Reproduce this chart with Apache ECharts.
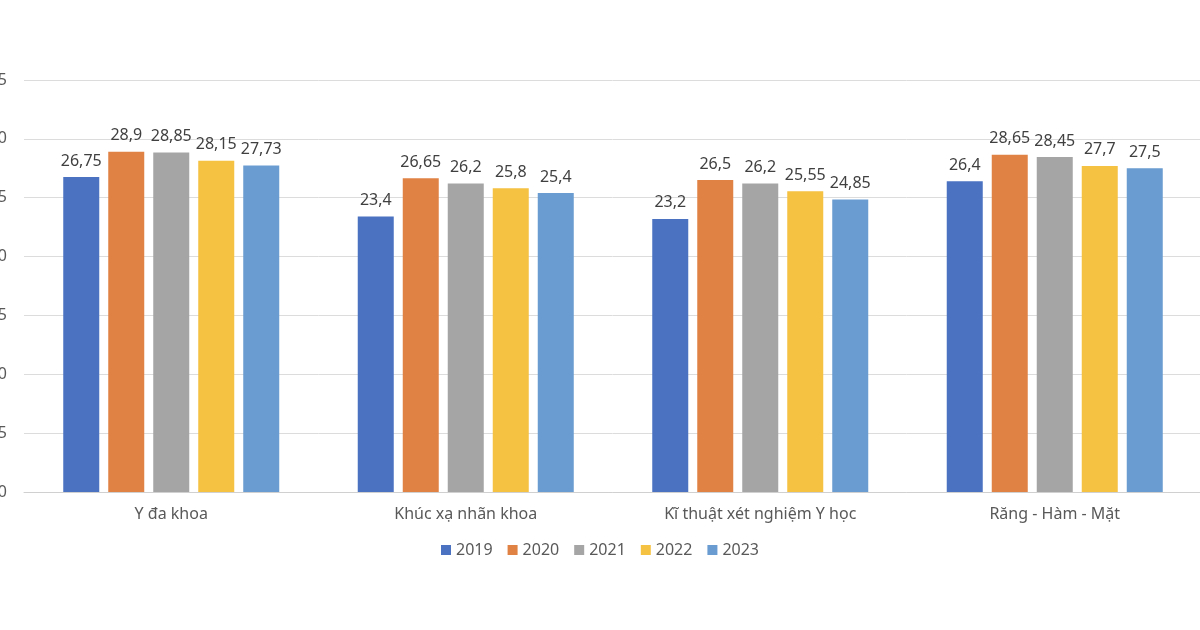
<!DOCTYPE html>
<html>
<head>
<meta charset="utf-8">
<script src="https://cdn.jsdelivr.net/npm/echarts@6/dist/echarts.min.js"></script>
<style>html,body{margin:0;padding:0;background:#fff}#c{width:1200px;height:630px}</style>
</head>
<body>
<div id="c"></div>
<script>
const categories = ['Y đa khoa', 'Khúc xạ nhãn khoa', 'Kĩ thuật xét nghiệm Y học', 'Răng - Hàm - Mặt'];
const years = ['2019', '2020', '2021', '2022', '2023'];
const s2019 = [26.75, 23.4, 23.2, 26.4];
const s2020 = [28.9, 26.65, 26.5, 28.65];
const s2021 = [28.85, 26.2, 26.2, 28.45];
const s2022 = [28.15, 25.8, 25.55, 27.7];
const s2023 = [27.73, 25.4, 24.85, 27.5];
const yTicks = { min: 0, max: 35, interval: 5 };

const seriesData = [s2019, s2020, s2021, s2022, s2023];
const colors = ['#4A72C0', '#DF8243', '#A5A5A5', '#F5C242', '#6A9BD1'];
const font = '"Noto Sans", "Open Sans", sans-serif';

const chart = echarts.init(document.getElementById('c'));
chart.setOption({
  animation: false,
  textStyle: { fontFamily: font },
  grid: { left: 24, right: -2, top: 80, bottom: 138, containLabel: false, outerBoundsMode: 'none' },
  legend: {
    data: years,
    top: 537,
    left: 'center',
    itemWidth: 10,
    itemHeight: 10,
    itemGap: 15,
    icon: 'rect',
    textStyle: { fontSize: 16, color: '#595959', fontFamily: font }
  },
  xAxis: {
    type: 'category',
    data: categories,
    axisLine: { lineStyle: { color: '#D0D0D0', width: 1 } },
    axisTick: { show: false },
    axisLabel: { fontSize: 16, color: '#595959', margin: 14, fontFamily: font }
  },
  yAxis: {
    type: 'value',
    min: yTicks.min, max: yTicks.max, interval: yTicks.interval,
    axisLine: { show: false },
    axisTick: { show: false },
    splitLine: { lineStyle: { color: '#DCDCDC', width: 1 } },
    axisLabel: { fontSize: 16, color: '#595959', margin: 17, fontFamily: font }
  },
  series: years.map((y, i) => ({
    name: y,
    type: 'bar',
    data: seriesData[i],
    barWidth: 36,
    barGap: '25%',
    itemStyle: { color: colors[i] },
    label: {
      show: true,
      position: 'top',
      distance: 8,
      fontSize: 16,
      color: '#404040',
      fontFamily: font,
      formatter: p => String(p.value).replace('.', ',')
    }
  }))
});
</script>
</body>
</html>
